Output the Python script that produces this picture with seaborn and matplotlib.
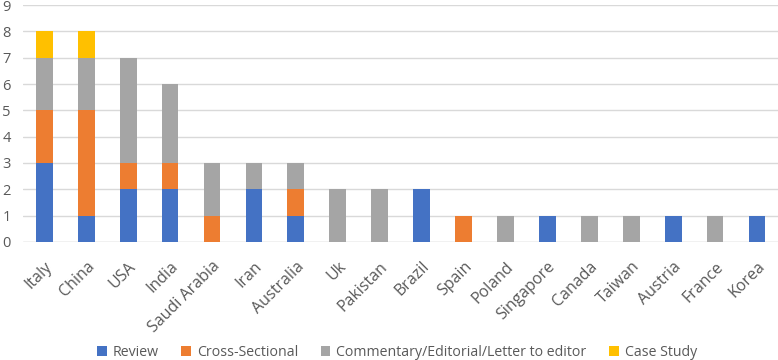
import matplotlib
matplotlib.use("Agg")
import matplotlib.pyplot as plt
import seaborn as sns
import numpy as np
import pandas as pd

countries = ["Italy", "China", "USA", "India", "Saudi Arabia", "Iran", "Australia", "Uk",
             "Pakistan", "Brazil", "Spain", "Poland", "Singapore", "Canada", "Taiwan",
             "Austria", "France", "Korea"]
review =        [3, 1, 2, 2, 0, 2, 1, 0, 0, 2, 0, 0, 1, 0, 0, 1, 0, 1]
cross_sectional = [2, 4, 1, 1, 1, 0, 1, 0, 0, 0, 1, 0, 0, 0, 0, 0, 0, 0]
commentary =    [2, 2, 4, 3, 2, 1, 1, 2, 2, 0, 0, 1, 0, 1, 1, 0, 1, 0]
case_study =    [1, 1, 0, 0, 0, 0, 0, 0, 0, 0, 0, 0, 0, 0, 0, 0, 0, 0]

series = [
    ("Review", review, "#4472C4"),
    ("Cross-Sectional", cross_sectional, "#ED7D31"),
    ("Commentary/Editorial/Letter to editor", commentary, "#A5A5A5"),
    ("Case Study", case_study, "#FFC000"),
]

sns.set_theme(style="white")
plt.rcParams["font.family"] = ["Open Sans", "DejaVu Sans"]

fig = plt.figure(figsize=(7.78, 3.6), dpi=100)
ax = fig.add_axes([0.03, 0.328, 0.97, 0.658])

bottom = np.zeros(len(countries))
for name, vals, col in series:
    df = pd.DataFrame({"country": countries, "value": vals})
    sns.barplot(data=df, x="country", y="value", order=countries, color=col,
                saturation=1, bottom=bottom.copy(), width=0.4, ax=ax, label=name,
                edgecolor="none", linewidth=0)
    bottom += np.array(vals)

if ax.get_legend() is not None:
    ax.get_legend().remove()

ax.set_ylim(0, 9)
ax.set_yticks(range(0, 10))
ax.set_xlim(-0.5, len(countries) - 0.5)
ax.yaxis.grid(True, color="#D9D9D9", linewidth=1)
ax.set_axisbelow(True)
for s in ax.spines.values():
    s.set_visible(False)
ax.axhline(0, color="#D9D9D9", linewidth=1, zorder=0.5)
ax.set_xlabel("")
ax.set_ylabel("")
ax.tick_params(axis="both", length=0, colors="#595959")
ax.tick_params(axis="y", pad=9, labelsize=10.5)
ax.tick_params(axis="x", pad=12, labelsize=11.5)
plt.setp(ax.get_xticklabels(), rotation=45, ha="right", rotation_mode="anchor")

handles, labels = ax.get_legend_handles_labels()
fig.legend(handles, labels, loc="lower center", bbox_to_anchor=(0.51, -0.035), ncol=4,
           frameon=False, fontsize=10.2, handlelength=0.7, handleheight=0.7,
           columnspacing=1.6, handletextpad=0.4, labelcolor="#595959")

fig.savefig("out.png", dpi=100)
